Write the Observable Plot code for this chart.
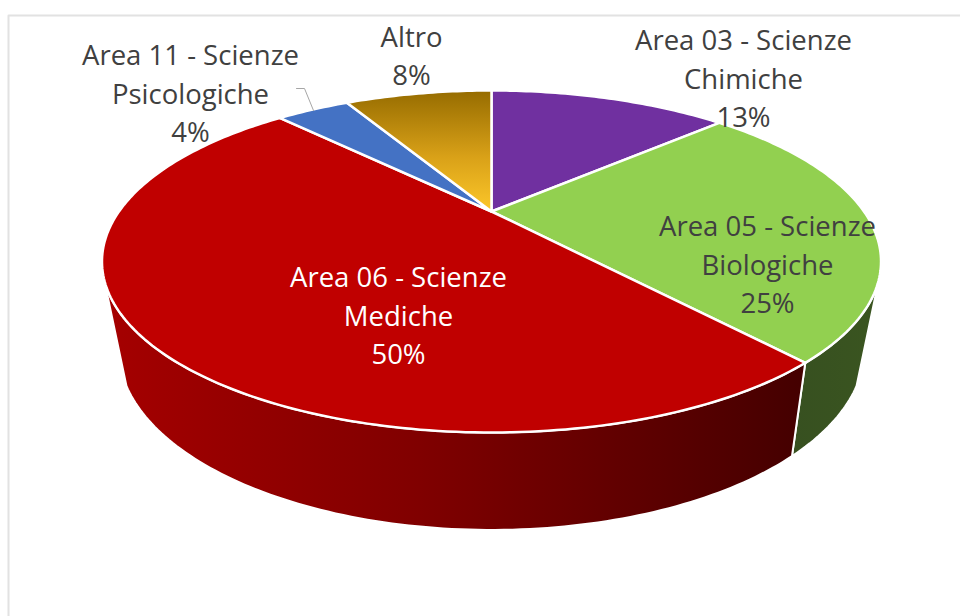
<!DOCTYPE html>
<html>
<head>
<meta charset="utf-8">
<style>html,body{margin:0;padding:0;background:#fff}svg{display:block}</style>
<script src="https://cdn.jsdelivr.net/npm/d3@7"></script>
<script src="https://cdn.jsdelivr.net/npm/@observablehq/plot@0.6"></script>
</head>
<body>
<div id="chart"></div>
<script>
// Data
const categories = ["Area 03 - Scienze\nChimiche", "Area 05 - Scienze\nBiologiche", "Area 06 - Scienze\nMediche", "Area 11 - Scienze\nPsicologiche", "Altro"];
const shares = [13.1, 25.5, 49.3, 4.0, 8.1];
const percentLabels = ["13%", "25%", "50%", "4%", "8%"];

// Styles and label layout
const sliceFills = ["#7030a0", "#92d050", "#c00000", "#4472c4", "url(#altroTop)"];
const labelFills = ["#404040", "#404040", "#ffffff", "#404040", "#404040"];
const labelCenterX = [743, 767, 398, 190, 411];
const labelMiddleY = [76, 262, 313, 91, 53];

// Perspective projection of the pie plane (top face and bottom face)
const K = 0.2924;
const topFace = {cx: 491, cy: 211, a: 372.5, b: 156.4};
const bottomFace = {cx: 491, cy: 295.4, a: 356.7, b: 165.6};
const project = (f, deg) => {
  const t = deg * Math.PI / 180, u = Math.sin(t), v = Math.cos(t), w = 1 + K * v;
  return {x: f.cx + f.a * u / w, y: f.cy - f.b * v / w};
};
const arc = (f, a0, a1) => {
  const n = Math.max(2, Math.ceil(Math.abs(a1 - a0)));
  return d3.range(n + 1).map(i => project(f, a0 + (a1 - a0) * i / n));
};

// Slice angles come from the shares
const total = d3.sum(shares);
const cumulative = [0, ...d3.cumsum(shares)];
const angle = i => cumulative[i] / total * 360;

const polygon = pts => [...pts, pts[0]];
const topSlice = i => polygon([{x: topFace.cx, y: topFace.cy}, ...arc(topFace, angle(i), angle(i + 1))]);
const sideWall = (t0, t1, b0, b1) => polygon([...arc(topFace, t0, t1), ...arc(bottomFace, b1, b0)]);

const sideStyle = {x: "x", y: "y", stroke: "#fff", strokeWidth: 2, strokeLinejoin: "round"};
const defs = () => {
  const d = d3.create("svg:defs");
  const grad = (id, x2, y2, stops) => {
    const g = d.append("linearGradient").attr("id", id).attr("x1", 0).attr("y1", 0).attr("x2", x2).attr("y2", y2);
    stops.forEach(([o, c]) => g.append("stop").attr("offset", o).attr("stop-color", c));
  };
  grad("altroTop", 0, 1, [[0, "#966c00"], [0.55, "#d9a118"], [1, "#fcc72a"]]);
  grad("redSide", 1, 0, [[0, "#a50000"], [0.45, "#800000"], [1, "#440000"]]);
  grad("greenSide", 1, 0, [[0, "#375020"], [1, "#3a5520"]]);
  return d.node();
};

const chart = Plot.plot({
  width: 960,
  height: 616,
  margin: 0,
  x: {type: "identity", axis: null},
  y: {type: "identity", axis: null},
  style: {background: "#fff"},
  marks: [
    defs,
    Plot.line([{x: 8, y: 616}, {x: 8, y: 15}, {x: 960, y: 15}], {x: "x", y: "y", stroke: "#e2e2e2", strokeWidth: 2}),
    Plot.line(sideWall(112, angle(2), 118, angle(2)), {...sideStyle, fill: "url(#greenSide)"}),
    Plot.line(sideWall(angle(2), 248, angle(2), 242), {...sideStyle, fill: "url(#redSide)"}),
    ...shares.map((_, i) => Plot.line(topSlice(i), {x: "x", y: "y", fill: sliceFills[i], stroke: "#fff", strokeWidth: 2.5, strokeLinejoin: "round"})),
    Plot.line([{x: 296, y: 88}, {x: 304, y: 88}, {x: 313, y: 110}], {x: "x", y: "y", stroke: "#a6a6a6", strokeWidth: 1}),
    Plot.text(categories.map((c, i) => ({
        text: `${c}\n${percentLabels[i]}`, x: labelCenterX[i], y: labelMiddleY[i], fill: labelFills[i]
      })), {
      x: "x", y: "y", text: "text", fill: "fill",
      textAnchor: "middle", lineAnchor: "middle",
      fontFamily: "Open Sans", fontSize: 27.5, lineHeight: 1.4
    })
  ]
});
document.getElementById("chart").append(chart);
</script>
</body>
</html>
